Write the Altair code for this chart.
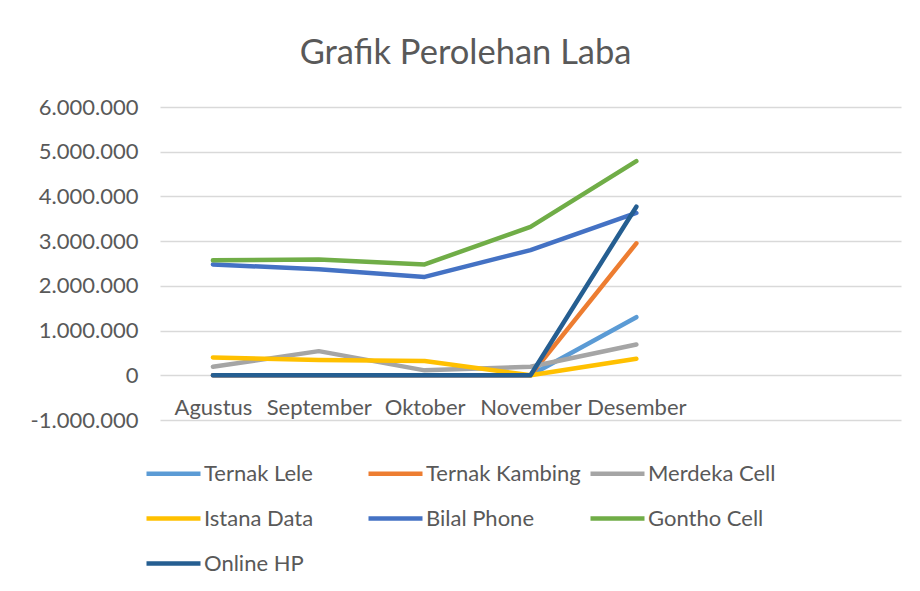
import altair as alt
import pandas as pd

months = ["Agustus", "September", "Oktober", "November", "Desember"]
x_domain = months + ["", " "]

series = ["Ternak Lele", "Ternak Kambing", "Merdeka Cell", "Istana Data",
          "Bilal Phone", "Gontho Cell", "Online HP"]
colors = ["#5B9BD5", "#ED7D31", "#A5A5A5", "#FFC000", "#4472C4", "#70AD47", "#255E91"]

ternak_lele = [0, 0, 0, 0, 1300000]
ternak_kambing = [0, 0, 0, 0, 2950000]
merdeka_cell = [190000, 540000, 110000, 190000, 690000]
istana_data = [400000, 340000, 320000, 0, 370000]
bilal_phone = [2480000, 2370000, 2200000, 2800000, 3630000]
gontho_cell = [2570000, 2590000, 2480000, 3320000, 4790000]
online_hp = [0, 0, 0, 0, 3770000]

values = [ternak_lele, ternak_kambing, merdeka_cell, istana_data,
          bilal_phone, gontho_cell, online_hp]

rows = []
for s, vals in zip(series, values):
    for m, v in zip(months, vals):
        rows.append({"series": s, "bulan": m, "laba": v})
df = pd.DataFrame(rows)

text_color = "#595959"
grid_color = "#D9D9D9"

label_expr = ("replace(replace(replace(format(datum.value, ','), ',', '.'), ',', '.'), "
              "'\u2212', '-')")

x_enc = alt.X(
    "bulan:N",
    sort=x_domain,
    scale=alt.Scale(type="point", domain=x_domain, padding=0.5),
    axis=alt.Axis(title=None, domain=False, ticks=False, grid=False,
                  labelAngle=0, labelFontSize=22, labelColor=text_color,
                  labelPadding=22, offset=-45, labelFont="Lato"),
)
y_enc = alt.Y(
    "laba:Q",
    scale=alt.Scale(domain=[-1000000, 6000000], nice=False, zero=False),
    axis=alt.Axis(title=None, domain=False, ticks=False, grid=True,
                  gridColor=grid_color, gridWidth=1.5,
                  values=[-1000000, 0, 1000000, 2000000, 3000000, 4000000, 5000000, 6000000],
                  labelExpr=label_expr, labelFontSize=22, labelColor=text_color,
                  labelPadding=22, minExtent=120, maxExtent=120, labelFont="Lato"),
)
color_enc = alt.Color(
    "series:N",
    scale=alt.Scale(domain=series, range=colors),
    sort=series,
    legend=alt.Legend(
        title=None, orient="none", legendX=-16, legendY=337,
        direction="horizontal", columns=3, gridAlign="all",
        symbolType="stroke", symbolSize=2916, symbolStrokeWidth=4.5,
        labelFontSize=22, labelColor=text_color, labelFont="Lato",
        labelOffset=1, columnPadding=0, rowPadding=4, padding=0,
        labelLimit=300,
    ),
)

layers = []
for s in series:
    layers.append(
        alt.Chart(df)
        .transform_filter(alt.datum.series == s)
        .mark_line(strokeWidth=4.5, strokeCap="round", strokeJoin="round")
        .encode(x=x_enc, y=y_enc, color=color_enc)
    )

chart = (
    alt.layer(*layers)
    .properties(
        width=741, height=313,
        padding={"left": 22, "top": 27, "right": 10, "bottom": 0},
        title=alt.TitleParams("Grafik Perolehan Laba", fontSize=34.5, font="Lato",
                              fontWeight="normal", color=text_color,
                              anchor="middle", frame="bounds", offset=25),
        background="white",
    )
    .configure(font="Lato")
    .configure_view(stroke=None)
)

chart.save("out.html", embed_options={"renderer": "svg", "actions": False})
